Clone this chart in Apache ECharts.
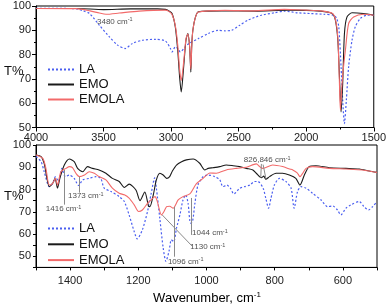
<!DOCTYPE html>
<html><head><meta charset="utf-8">
<script src="https://cdn.jsdelivr.net/npm/echarts@6/dist/echarts.min.js"></script>
<style>html,body{margin:0;padding:0;background:#fff}#c{width:389px;height:306px}</style>
</head><body><div id="c"></div>
<script>
// ---------- DATA ----------
const seriesNames = ['LA', 'EMO', 'EMOLA'];
const topXTicks = [1500, 2000, 2500, 3000, 3500, 4000];
const bottomXTicks = [600, 800, 1000, 1200, 1400];
const yTicks = [50, 60, 70, 80, 90, 100];

// Top panel (4000-1500 cm-1): [wavenumber, T%]
const laTop = [[4000,99],[3800,99],[3700,98.8],[3650,98],[3604,96.9],[3531,92.1],[3457,87.3],[3396,83.9],[3340,82.5],[3286,84.6],[3213,85.9],[3115,86.3],[3042,85.6],[3005,82.5],[2993,81.1],[2969,83.2],[2950,82.5],[2932,81.1],[2895,83.2],[2871,84.5],[2798,86.6],[2724,88.7],[2651,90],[2602,89.8],[2553,90],[2492,92.1],[2431,94.2],[2333,96.2],[2235,97.2],[2162,97.9],[2064,97.2],[1967,96.9],[1869,96.6],[1796,96.2],[1775,95],[1759,91.4],[1742,75],[1730,61.2],[1717,51.6],[1703,61.2],[1686,75],[1661,85.9],[1637,91.4],[1600,94.8],[1551,96.2],[1500,96.2]];
const emoTop = [[4000,99],[3700,99],[3500,98.5],[3300,98.8],[3100,98.8],[3042,98.6],[3017,98],[2993,96.9],[2969,91.4],[2951,81.8],[2937,70.8],[2925,64.6],[2907,75],[2890,86],[2876,88.7],[2863,83.2],[2854,72.8],[2847,84],[2839,90],[2822,95],[2798,97.6],[2627,98],[2382,97.9],[2138,98.3],[1893,97.9],[1808,96.9],[1784,94.2],[1766,86],[1752,68.1],[1742,56.4],[1730,68.1],[1717,88.7],[1698,95.5],[1661,97.2],[1576,96.9],[1500,96.2]];
const emolaTop = [[4000,99],[3700,98.9],[3600,98],[3531,97.1],[3482,96.6],[3384,97.1],[3237,97.9],[3042,98.3],[3017,97.8],[2993,96.5],[2969,92],[2951,84],[2937,74],[2925,69.3],[2907,77],[2890,86.5],[2876,88.5],[2863,83.5],[2854,74],[2847,84],[2839,90],[2822,95],[2798,97.5],[2600,98.2],[2400,98],[2162,98.6],[2000,98.3],[1893,98],[1808,97],[1784,94.5],[1766,87],[1755,70],[1747,57.1],[1735,68],[1722,76],[1710,81.8],[1686,92.8],[1649,95.5],[1576,96.6],[1500,96.2]];

// Bottom panel (1500-500 cm-1)
const laBottom = [[1500,94.8],[1485,92.5],[1476,88],[1461,81.3],[1451,82.8],[1443,85.8],[1434,83.6],[1424,89.5],[1414,85.8],[1402,86.5],[1388,85],[1375,81.8],[1363,84.3],[1344,85],[1324,85.8],[1310,85],[1300,80.6],[1280,79.1],[1256,76.8],[1241,74.6],[1227,68.6],[1212,61.1],[1203,57.8],[1188,61.9],[1173,70.1],[1163,77.6],[1152,85.2],[1147,80.6],[1137,67.1],[1127,53.7],[1119,47.7],[1110,52.2],[1103,57.4],[1096,56.6],[1088,62.6],[1078,68.6],[1069,75.3],[1061,77.6],[1054,73.8],[1047,64.9],[1041,65.6],[1034,73.8],[1025,82],[1010,85.8],[995,86.5],[976,85.8],[961,84.3],[952,81.3],[940,82],[930,80.6],[920,78],[903,80.5],[888,81.3],[873,82],[859,83.6],[849,83.6],[834,80.6],[826,76],[818,71.6],[811,76],[801,82],[786,85],[767,83.6],[752,80.6],[743,71.6],[733,79.1],[723,81.3],[708,80.6],[689,78.3],[664,75.3],[645,72.3],[630,72.6],[616,70.8],[606,68.6],[591,71.6],[577,73.1],[552,74.6],[538,72.3],[525,70.8],[513,72.3],[500,74.6]];
const emoBottom = [[1500,95.5],[1485,94.8],[1476,91.8],[1461,81.3],[1451,82.8],[1444,85],[1437,80.6],[1430,85],[1417,91],[1402,93.7],[1388,92.5],[1378,89.5],[1363,88],[1349,90.3],[1334,89.5],[1315,88.8],[1295,87.3],[1276,85],[1256,83.6],[1241,80.9],[1227,82.4],[1207,79.8],[1195,75],[1181,78.9],[1170,72.5],[1166,72.3],[1156,77.6],[1147,84.3],[1137,87.3],[1127,86.5],[1117,85],[1108,85.8],[1100,88.3],[1088,91],[1073,92.5],[1059,93.3],[1039,93.7],[1020,91.8],[1005,88.8],[995,89.5],[981,89.8],[961,90.3],[942,91],[922,90.7],[903,90.3],[883,89.5],[864,88.8],[854,87.3],[839,85.3],[832,86],[826,84.6],[815,85.8],[796,87.3],[777,87.3],[757,86.5],[738,85],[726,82],[713,86.5],[699,90.3],[679,90.7],[640,89.8],[591,89.5],[552,89.2],[523,88.3],[500,87.7]];
const emolaBottom = [[1500,95.5],[1480,94],[1471,89.5],[1461,82],[1451,82.8],[1443,85],[1437,82],[1427,88],[1412,89.5],[1402,90.3],[1393,89.8],[1383,87.3],[1373,85.8],[1358,86.5],[1344,88],[1329,87.3],[1315,85.8],[1295,84.3],[1276,80.6],[1256,78.3],[1241,77.6],[1227,76.1],[1212,73.1],[1199,70.1],[1188,70.8],[1173,73.8],[1163,75.3],[1151,76.8],[1145,75],[1132,68.6],[1125,70],[1117,72.3],[1108,72.5],[1098,71.6],[1083,75.3],[1069,76.8],[1049,78],[1030,82.5],[1010,85],[990,87.4],[971,87.3],[942,88.8],[912,89.5],[883,90],[854,91.5],[844,90.3],[835,89.5],[806,91],[777,90.3],[756,89.2],[747,88.8],[734,87.5],[726,85.8],[717,87.5],[708,89.5],[689,90.3],[640,89.5],[591,89.2],[542,88.8],[513,88],[500,87.7]];

// Annotations: [wavenumber, T%, label]
const topNotes = [[3417, 93.7, '3480']];
const bottomNotes = [[1419, 71.3, '1416'], [1354, 77.1, '1373'], [996, 54.3, '1130'], [1061, 47.7, '1096'], [990, 60.4, '1044'], [822, 93.3, '826,846']];
const leaderLines = [
  [[1416, 88.8], [1416, 73.2]],
  [[1373, 85.7], [1373, 78.6]],
  [[1096, 72.2], [1096, 49.8]],
  [[1044, 76.2], [1044, 59.6]],
  [[1130, 68.6], [1043, 54.7]],
  [[839, 91.5], [841, 85.4]],
  [[834, 91.2], [826, 85.0]]
];

// ---------- CHART ----------
const FONT = 'Liberation Sans, Arial, sans-serif';
const colors = { LA: '#4a5ef0', EMO: '#1a1a1a', EMOLA: '#f26a6a' };
const styles = {
  LA: { color: colors.LA, width: 1.2, type: [2, 2] },
  EMO: { color: colors.EMO, width: 1.1, type: 'solid' },
  EMOLA: { color: colors.EMOLA, width: 1.1, type: 'solid' }
};

function mkLine(name, data, idx) {
  return {
    type: 'line', name, data, xAxisIndex: idx, yAxisIndex: idx,
    showSymbol: false, symbol: 'none', smooth: 0.25,
    lineStyle: styles[name], itemStyle: { color: colors[name] },
    animation: false, silent: true
  };
}

const rich = {
  a: { fontSize: 8, color: '#222', fontFamily: FONT },
  s: { fontSize: 5.5, color: '#222', fontFamily: FONT, verticalAlign: 'top', padding: [0, 0, 3, 0] }
};
function noteSeries(notes, idx) {
  return {
    type: 'scatter', xAxisIndex: idx, yAxisIndex: idx, symbolSize: 0, silent: true, animation: false, z: 10,
    data: notes.map(n => ({ value: [n[0], n[1]], name: n[2] })),
    label: { show: true, position: 'inside', formatter: p => '{a|' + p.name + ' cm}{s|-1}', rich }
  };
}

const axisCommon = {
  type: 'value',
  axisLine: { show: true, onZero: false, lineStyle: { color: '#000', width: 1 } },
  axisTick: { show: true, inside: false, length: 4, lineStyle: { color: '#000' } },
  splitLine: { show: false },
  axisLabel: { fontSize: 11, color: '#222', fontFamily: FONT }
};

const legendCommon = {
  data: seriesNames,
  orient: 'vertical', padding: 0, itemWidth: 26, itemHeight: 14,
  itemStyle: { opacity: 0, borderWidth: 0 },
  textStyle: { fontSize: 13, color: '#111', fontFamily: FONT }, selectedMode: false
};

const option = {
  animation: false,
  backgroundColor: '#fff',
  grid: [
    { left: 36, top: 6, width: 341, height: 121.5, show: true, borderColor: '#000', borderWidth: 1 },
    { left: 36, top: 145, width: 341, height: 122.4, show: true, borderColor: '#000', borderWidth: 1 }
  ],
  xAxis: [
    Object.assign({}, axisCommon, {
      gridIndex: 0, min: 1500, max: 4000, interval: 500, inverse: true,
      minorTick: { show: true, splitNumber: 2, length: 2, lineStyle: { color: '#000' } },
      axisLabel: Object.assign({}, axisCommon.axisLabel, { margin: 5, formatter: v => topXTicks.includes(v) ? String(v) : '' })
    }),
    Object.assign({}, axisCommon, {
      gridIndex: 1, min: 500, max: 1500, interval: 100, inverse: true,
      axisTick: { show: true, inside: false, length: 3, lineStyle: { color: '#000' } },
      axisLabel: Object.assign({}, axisCommon.axisLabel, { margin: 8, showMinLabel: true, showMaxLabel: true, formatter: v => bottomXTicks.includes(v) ? String(v) : '' })
    })
  ],
  yAxis: [
    Object.assign({}, axisCommon, {
      gridIndex: 0, min: 50, max: 100, interval: 10,
      minorTick: { show: true, splitNumber: 2, length: 2, lineStyle: { color: '#000' } },
      axisLabel: Object.assign({}, axisCommon.axisLabel, { margin: 5, formatter: v => yTicks.includes(v) ? String(v) : '' })
    }),
    Object.assign({}, axisCommon, {
      gridIndex: 1, min: 45, max: 100, interval: 5,
      axisTick: { show: true, inside: false, length: 3, lineStyle: { color: '#000' } },
      axisLabel: Object.assign({}, axisCommon.axisLabel, { margin: 5, formatter: v => yTicks.includes(v) ? String(v) : '' })
    })
  ],
  legend: [
    Object.assign({}, legendCommon, { left: 47, top: 63, itemGap: 2 }),
    Object.assign({}, legendCommon, { left: 47, top: 222, itemGap: 2.8 })
  ],
  graphic: [
    { type: 'text', x: 4, y: 71, style: { text: 'T%', font: '13px ' + FONT, fill: '#111', verticalAlign: 'middle' } },
    { type: 'text', x: 4, y: 196, style: { text: 'T%', font: '13px ' + FONT, fill: '#111', verticalAlign: 'middle' } },
    { type: 'text', x: 207, y: 298, style: {
        text: '{a|Wavenumber, cm}{s|-1}', align: 'center', verticalAlign: 'middle',
        rich: { a: { fontSize: 13, fontFamily: FONT, color: '#111' },
                s: { fontSize: 8, fontFamily: FONT, color: '#111', verticalAlign: 'top', padding: [0, 0, 6, 0] } } } }
  ],
  series: [
    mkLine('LA', laTop, 0), mkLine('EMO', emoTop, 0), mkLine('EMOLA', emolaTop, 0),
    mkLine('LA', laBottom, 1), mkLine('EMO', emoBottom, 1), mkLine('EMOLA', emolaBottom, 1),
    {
      type: 'lines', coordinateSystem: 'cartesian2d', xAxisIndex: 1, yAxisIndex: 1, silent: true, animation: false, z: 9,
      data: leaderLines.map(c => ({ coords: c })),
      lineStyle: { color: '#8a8a8a', width: 1, opacity: 1 }
    },
    noteSeries(topNotes, 0),
    noteSeries(bottomNotes, 1)
  ]
};

const chart = echarts.init(document.getElementById('c'), null, { renderer: 'canvas' });
chart.setOption(option);
</script>
</body></html>
